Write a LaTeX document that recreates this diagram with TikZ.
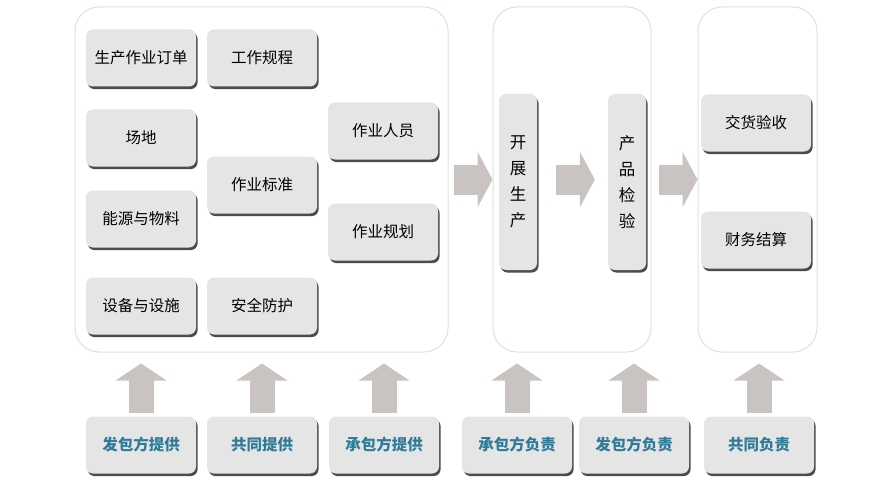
\documentclass[tikz,border=0pt]{standalone}
\usepackage{fontspec}
\setmainfont{Noto Sans CJK SC}
\usepackage{tikz}
\usetikzlibrary{arrows.meta,shadows}

\definecolor{arrowgray}{RGB}{201,196,193}
\definecolor{tealtext}{RGB}{48,124,152}
\definecolor{panelline}{RGB}{222,224,226}

\tikzset{
	panel/.style={draw=panelline, line width=1pt, rounded corners=24pt, fill=white, inner sep=0pt},
	itembox/.style={fill=black!10, rounded corners=7pt, inner sep=0pt, align=center,
		font=\fontsize{15.5}{24}\selectfont,
		drop shadow={shadow xshift=1.6pt, shadow yshift=-2.6pt, fill=black!70, opacity=1}},
	tallbox/.style={itembox, minimum width=38pt, minimum height=176pt, font=\fontsize{16.5}{26}\selectfont},
	widebox/.style={itembox, minimum width=110pt, minimum height=57pt},
	rolebox/.style={widebox, text=tealtext, font=\fontsize{15.5}{20}\selectfont\bfseries},
	uparrow/.style={draw=arrowgray, line width=25pt, -{Triangle[length=17pt,width=50pt]}},
	rightarrow/.style={draw=arrowgray, line width=30pt, -{Triangle[length=15pt,width=55pt]}}
}

\begin{document}
\begin{tikzpicture}[x=1pt, y=-1pt]
		\useasboundingbox (0,0) rectangle (888,484);
		
		% the three stages
		\node[panel, minimum width=373pt, minimum height=345pt] (prep) at (261.5,179.5) {};
		\node[panel, minimum width=158pt, minimum height=345pt] (make) at (572,179.5) {};
		\node[panel, minimum width=119pt, minimum height=345pt] (close) at (757.5,179.5) {};
		
		% preparation items
		\node[widebox] (order) at (141,58) {生产作业订单};
		\node[widebox] (rules) at (262,58) {工作规程};
		\node[widebox] (site) at (141,138) {场地};
		\node[widebox] (standard) at (262,185) {作业标准};
		\node[widebox] (energy) at (141,219) {能源与物料};
		\node[widebox] (equipment) at (141,306) {设备与设施};
		\node[widebox] (safety) at (262,306) {安全防护};
		\node[widebox] (staff) at (383,131) {作业人员};
		\node[widebox] (plan) at (383,232) {作业规划};
		
		% production
		\node[tallbox] (produce) at (518,182) {开\\展\\生\\产};
		\node[tallbox] (inspect) at (627,182) {产\\品\\检\\验};
		
		% closing
		\node[widebox] (delivery) at (756,123) {交货验收};
		\node[widebox] (settle) at (756,240) {财务结算};
		
		% who does what
		\node[rolebox] (byclient) at (141,445) {发包方提供};
		\node[rolebox] (byboth) at (262,445) {共同提供};
		\node[rolebox] (bycontractor) at (384,445) {承包方提供};
		\node[rolebox] (contractorresp) at (517,445) {承包方负责};
		\node[rolebox] (clientresp) at (634,445) {发包方负责};
		\node[rolebox] (bothresp) at (759,445) {共同负责};
		
		% flow arrows
		\draw[rightarrow, shorten <=5pt] (prep.east) -- (make.west);
		\draw[rightarrow, shorten <=19pt, shorten >=13pt] (produce.east |- make.center) -- (inspect.west |- make.center);
		\draw[rightarrow, shorten <=7pt] (make.east) -- (close.west);
		
		% up arrows
		\foreach \r/\p in {byclient/prep, byboth/prep, bycontractor/prep, contractorresp/make, clientresp/make, bothresp/close}{
			\draw[uparrow, shorten <=3pt, shorten >=11pt] (\r.north) -- (\r.north |- \p.south);
		}
		
	\end{tikzpicture}
\end{document}
